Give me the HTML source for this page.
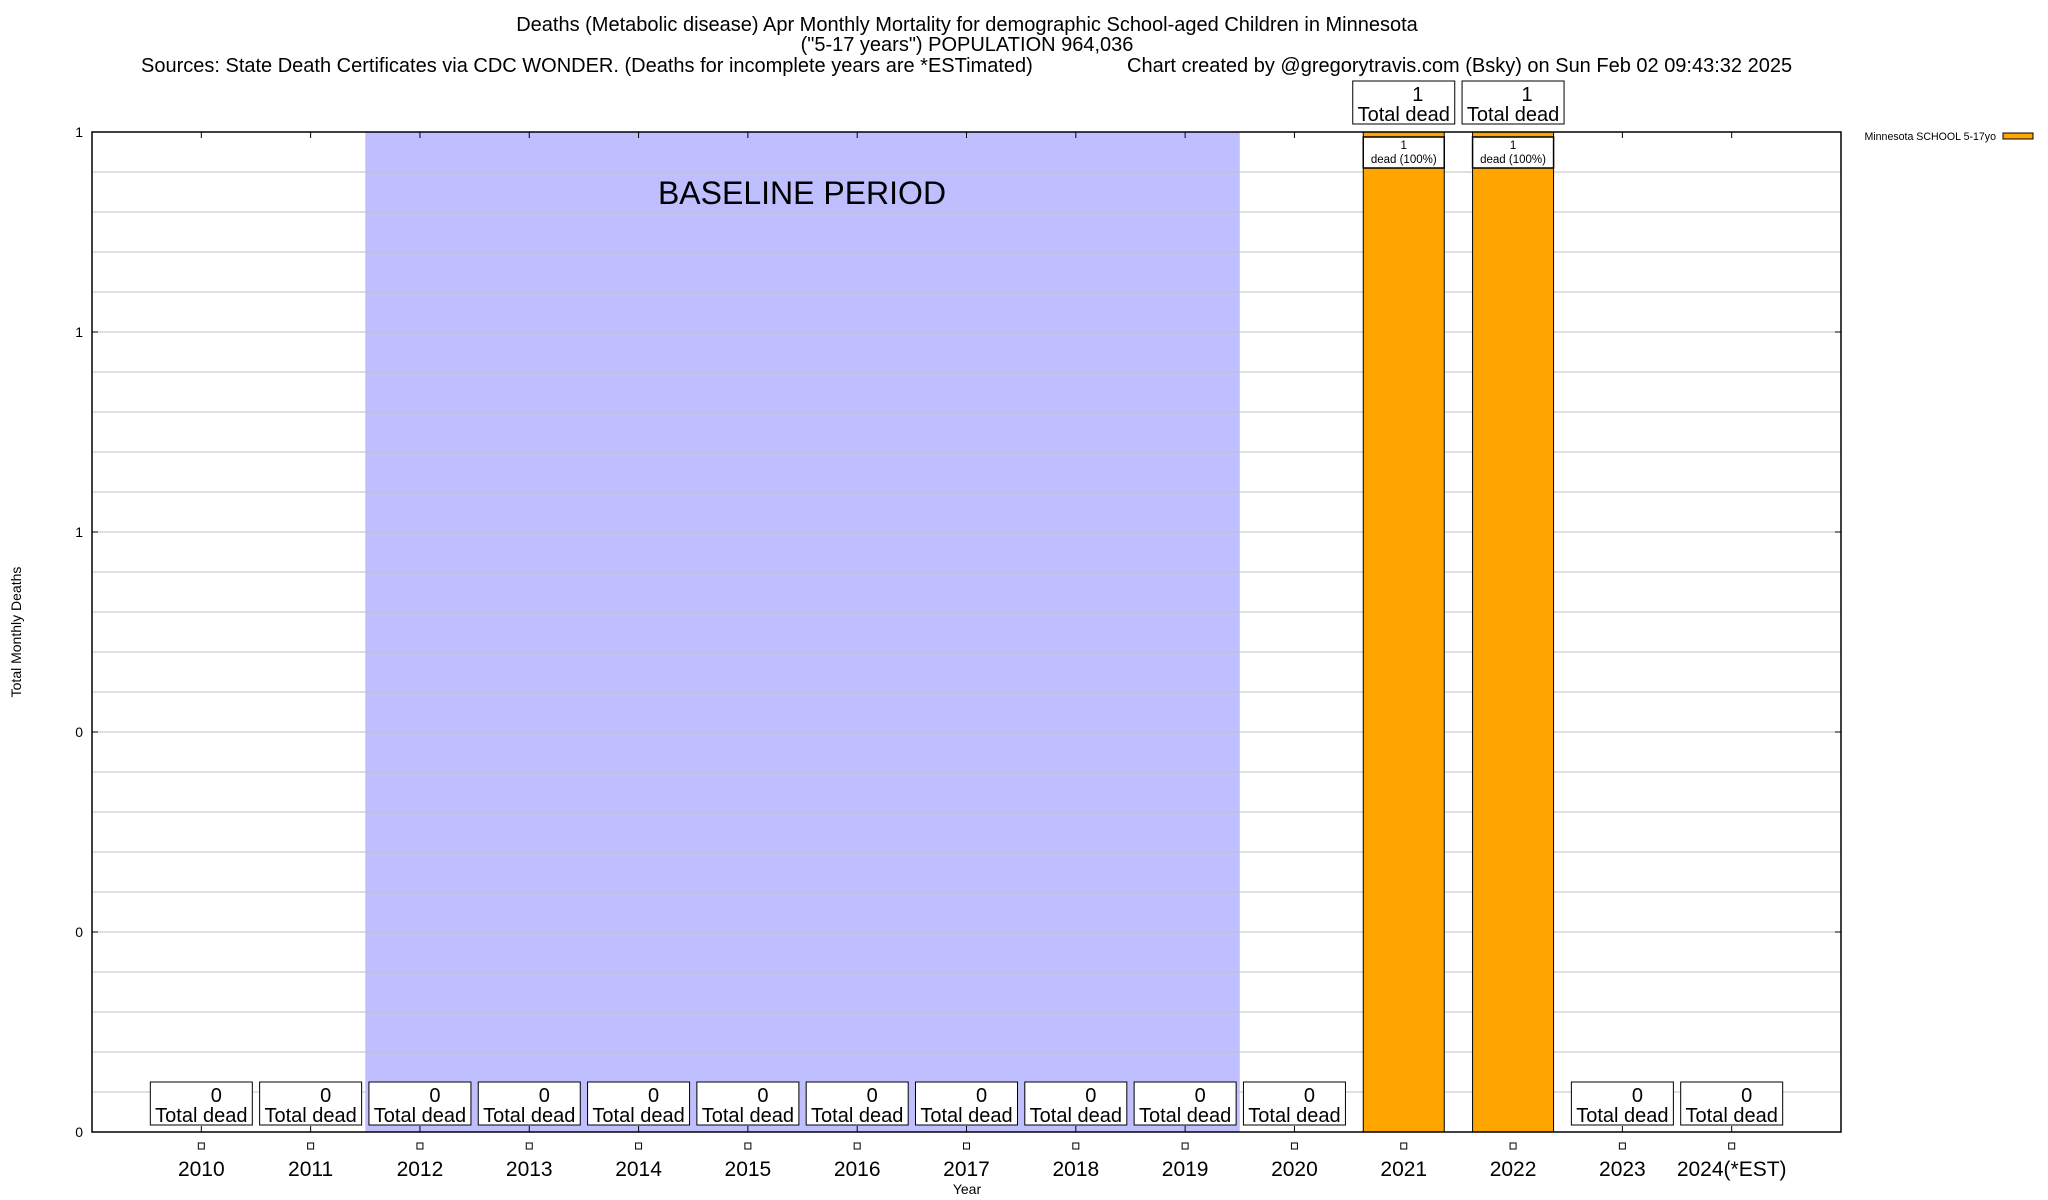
<!DOCTYPE html>
<html><head><meta charset="utf-8">
<style>
html,body{margin:0;padding:0;background:#fff;}
svg{display:block;font-family:"Liberation Sans",sans-serif;}
</style></head>
<body>
<svg id="chart" width="2048" height="1200" viewBox="0 0 2048 1200" xmlns="http://www.w3.org/2000/svg">
<text x="967" y="31" font-size="20" text-anchor="middle">Deaths (Metabolic disease) Apr Monthly Mortality for demographic School-aged Children in Minnesota</text>
<text x="967" y="51" font-size="20" text-anchor="middle">("5-17 years") POPULATION 964,036</text>
<text x="141" y="72" font-size="20">Sources: State Death Certificates via CDC WONDER. (Deaths for incomplete years are *ESTimated)</text>
<text x="1127" y="72" font-size="20">Chart created by @gregorytravis.com (Bsky) on Sun Feb 02 09:43:32 2025</text>
<g id="plot"></g>
<text transform="translate(21,632) rotate(-90)" font-size="14" text-anchor="middle">Total Monthly Deaths</text>
<text x="967" y="1194" font-size="14" text-anchor="middle">Year</text>
<g>
<text x="1996" y="140" font-size="10.6" text-anchor="end">Minnesota SCHOOL 5-17yo</text>
<rect x="2003" y="133" width="30" height="6" fill="#ffa500" stroke="#000" stroke-width="1"/>
</g>
</svg>
<script>
const categories = ["2010","2011","2012","2013","2014","2015","2016","2017","2018","2019","2020","2021","2022","2023","2024(*EST)"];
const deaths = [0,0,0,0,0,0,0,0,0,0,0,1,1,0,0];
const yTicks = [0,0.2,0.4,0.6,0.8,1];
const yTickLabels = ["0","0","0","1","1","1"];
const baselineStart = 2, baselineEnd = 9;

const L=92,R=1841,T=132,B=1132,yMax=1;
const NS="http://www.w3.org/2000/svg";
const step=(R-L)/(categories.length+1);
const xs=i=>L+step*(i+1);
const ys=v=>B-(v/yMax)*(B-T);
const g=document.getElementById('plot');
function mk(tag,attrs,parent){const e=document.createElementNS(NS,tag);for(const k in attrs)e.setAttribute(k,attrs[k]);(parent||g).appendChild(e);return e;}

const bl=mk('rect',{x:xs(baselineStart)-step/2,y:T,width:(baselineEnd-baselineStart+1)*step,height:B-T,fill:'#bfbfff'});


const blt=mk('text',{x:802,y:204,'font-size':32,'text-anchor':'middle'});
blt.textContent='BASELINE PERIOD';



for(let k=0;k<=25;k++){
  const v=k*yMax/25;const y=ys(v);
  const gl=mk('line',{x1:L,x2:R,y1:y,y2:y,stroke:'#c0c0c0','stroke-width':1});
  
  
}
yTicks.forEach((v,i)=>{
  const y=ys(v);
  const t=mk('text',{x:83,y:y+5,'font-size':14,'text-anchor':'end'});
  t.textContent=yTickLabels[i];
  
  
  mk('line',{x1:L,x2:L+6,y1:y,y2:y,stroke:'#000'});
  mk('line',{x1:R-6,x2:R,y1:y,y2:y,stroke:'#000'});
});

categories.forEach((c,i)=>{
  const x=xs(i);const v=deaths[i];
  mk('line',{x1:x,x2:x,y1:B,y2:B-6,stroke:'#000'});
  mk('line',{x1:x,x2:x,y1:T,y2:T+6,stroke:'#000'});
  const sq=mk('rect',{x:x-3,y:1143,width:6,height:6,fill:'#fff',stroke:'#000'});
  
  
  const t=mk('text',{x:x,y:1176,'font-size':21,'text-anchor':'middle'});
  t.textContent=c;
  
  
  if(v>0){
    const bw=81;const by=ys(v);
    const bar=mk('rect',{x:x-bw/2,y:by,width:bw,height:B-by,fill:'#ffa500',stroke:'#000','stroke-width':1});
    
    
    const ib=mk('rect',{x:x-bw/2,y:by+5,width:bw,height:31,fill:'#fff',stroke:'#000','stroke-width':1.5});
    
    
    const t1=mk('text',{x:x,y:by+17,'font-size':11.5,'text-anchor':'middle'});t1.textContent=String(v);
    
    
    const t2=mk('text',{x:x,y:by+31,'font-size':11.5,'text-anchor':'middle'});t2.textContent='dead (100%)';
    
    
  }
  const top=v>0?ys(v)-51:1082;
  const bx=mk('rect',{x:x-51,y:top,width:102,height:43,fill:'#fff',stroke:'#000','stroke-width':1});
  
  
  const a=mk('text',{x:x+(v>0?14:15),y:top+20,'font-size':20,'text-anchor':'middle'});a.textContent=String(v);
  
  
  const b=mk('text',{x:x,y:top+40,'font-size':20,'text-anchor':'middle'});b.textContent='Total dead';
  
  
});
const frame=mk('rect',{x:L,y:T,width:R-L,height:B-T,fill:'none',stroke:'#000','stroke-width':1.5});


</script>
</body></html>
